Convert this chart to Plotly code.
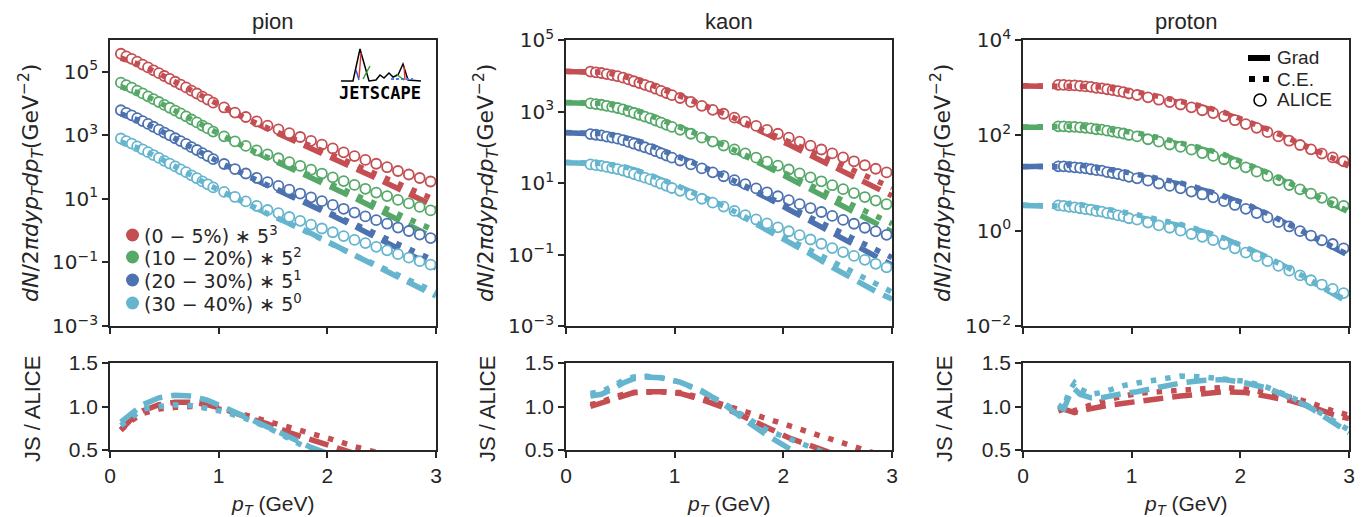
import plotly.graph_objects as go

# ---------------- data ----------------
CENTS = ["0_5", "10_20", "20_30", "30_40"]
CENT_LABELS = ["(0 − 5%) ∗ 5<sup>3</sup>", "(10 − 20%) ∗ 5<sup>2</sup>",
               "(20 − 30%) ∗ 5<sup>1</sup>", "(30 − 40%) ∗ 5<sup>0</sup>"]
SCALES = [5 ** 3, 5 ** 2, 5 ** 1, 5 ** 0]

# ---- pion ----
pion_pt = [0.10, 0.15, 0.20, 0.25, 0.30, 0.35, 0.40, 0.45, 0.50, 0.55, 0.60, 0.65, 0.70, 0.75, 0.80,
           0.85, 0.90, 0.95, 1.05, 1.15, 1.25, 1.35, 1.45, 1.55, 1.65, 1.75, 1.85, 1.95, 2.05, 2.15,
           2.25, 2.35, 2.45, 2.55, 2.65, 2.75, 2.85, 2.95]
pion_alice_0_5 = [2950, 2450, 2040, 1660, 1350, 1100, 891, 724, 589, 479, 389, 316, 257, 204, 166, 132,
                  107, 85.1, 60.3, 41.7, 30.2, 21.9, 16.2, 12.3, 9.33, 7.08, 5.37, 4.07, 3.09, 2.34,
                  1.78, 1.35, 1.02, 0.794, 0.603, 0.468, 0.363, 0.282]
pion_alice_10_20 = [1820, 1510, 1260, 1020, 832, 676, 550, 447, 363, 295, 240, 195, 158, 126, 102, 81.3,
                    66.1, 52.5, 37.2, 25.7, 18.6, 13.5, 10.0, 7.59, 5.75, 4.37, 3.31, 2.51, 1.91, 1.45,
                    1.10, 0.832, 0.631, 0.490, 0.372, 0.288, 0.224, 0.174]
pion_alice_20_30 = [1230, 1020, 851, 692, 562, 457, 372, 302, 245, 200, 162, 132, 107, 85.1, 69.2, 55.0,
                    44.7, 35.5, 25.1, 17.4, 12.6, 9.12, 6.76, 5.13, 3.89, 2.95, 2.24, 1.70, 1.29, 0.977,
                    0.741, 0.562, 0.427, 0.331, 0.251, 0.195, 0.151, 0.117]
pion_alice_30_40 = [794, 661, 550, 447, 363, 295, 240, 195, 158, 129, 105, 85.1, 69.2, 55.0, 44.7, 35.5,
                    28.8, 22.9, 16.6, 11.5, 8.32, 6.03, 4.47, 3.55, 2.69, 2.04, 1.55, 1.17, 0.891, 0.676,
                    0.513, 0.407, 0.309, 0.240, 0.182, 0.141, 0.110, 0.0851]
pion_model_pt = [0.10, 0.20, 0.30, 0.45, 0.60, 0.75, 0.90, 1.05, 1.25, 1.45, 1.65, 1.85, 2.05, 2.25,
                 2.45, 2.65, 2.85, 3.00]
pion_grad_0_5 = [2150, 1750, 1280, 740, 408, 214, 109, 58.5, 26.5, 13.0, 6.53, 3.27, 1.61, 0.764, 0.358,
                 0.169, 0.0798, 0.0452]
pion_ce_0_5 = [2150, 1710, 1240, 703, 385, 204, 106, 57.8, 27.2, 13.5, 7.18, 3.76, 1.91, 0.959, 0.471,
               0.235, 0.120, 0.0728]
pion_grad_10_20 = [1380, 1110, 807, 469, 259, 136, 68.7, 36.4, 16.4, 7.91, 3.92, 1.92, 0.914, 0.428,
                   0.195, 0.0891, 0.0403, 0.0224]
pion_ce_10_20 = [1360, 1080, 782, 438, 240, 126, 65.5, 35.3, 16.4, 8.09, 4.26, 2.19, 1.10, 0.548, 0.265,
                 0.130, 0.0649, 0.0387]
pion_grad_20_30 = [973, 766, 557, 323, 178, 93.5, 46.9, 24.6, 11.1, 5.27, 2.61, 1.25, 0.593, 0.274,
                   0.124, 0.0552, 0.0249, 0.0136]
pion_ce_20_30 = [946, 741, 535, 299, 164, 85.9, 44.3, 23.9, 11.0, 5.35, 2.72, 1.36, 0.670, 0.326, 0.158,
                 0.0753, 0.0378, 0.0220]
pion_grad_30_40 = [652, 506, 371, 214, 118, 61.5, 30.8, 16.4, 7.31, 3.44, 1.75, 0.820, 0.374, 0.169,
                   0.0773, 0.0346, 0.0153, 0.00873]
pion_ce_30_40 = [619, 483, 352, 195, 107, 55.5, 28.2, 15.6, 7.14, 3.40, 1.69, 0.774, 0.366, 0.169,
                 0.0834, 0.0400, 0.0197, 0.0114]
pion_ratio_pt = [0.10, 0.20, 0.30, 0.45, 0.60, 0.75, 0.90, 1.05, 1.25, 1.45, 1.65, 1.85, 2.05, 2.25,
                 2.45, 2.65, 2.85, 3.00]
pion_ratio_grad_0_5 = [0.73, 0.86, 0.95, 1.02, 1.05, 1.05, 1.02, 0.97, 0.88, 0.80, 0.70, 0.61, 0.52,
                       0.43, 0.35, 0.28, 0.22, 0.18]
pion_ratio_ce_0_5 = [0.73, 0.84, 0.92, 0.97, 0.99, 1.00, 0.99, 0.96, 0.90, 0.83, 0.77, 0.70, 0.62, 0.54,
                     0.46, 0.39, 0.33, 0.29]
pion_ratio_grad_30_40 = [0.82, 0.92, 1.02, 1.10, 1.13, 1.12, 1.07, 0.99, 0.88, 0.77, 0.65, 0.53, 0.42,
                         0.33, 0.25, 0.19, 0.14, 0.115]
pion_ratio_ce_30_40 = [0.78, 0.88, 0.97, 1.00, 1.02, 1.01, 0.98, 0.94, 0.86, 0.76, 0.63, 0.50, 0.41,
                       0.33, 0.27, 0.22, 0.18, 0.15]

# ---- kaon ----
kaon_pt = [0.225, 0.275, 0.325, 0.375, 0.425, 0.475, 0.525, 0.575, 0.625, 0.675, 0.725, 0.775, 0.825,
           0.875, 0.925, 0.975, 1.05, 1.15, 1.25, 1.35, 1.45, 1.55, 1.65, 1.75, 1.85, 1.95, 2.05, 2.15,
           2.25, 2.35, 2.45, 2.55, 2.65, 2.75, 2.85, 2.95]
kaon_alice_0_5 = [105, 100, 95.5, 89.1, 83.2, 77.6, 70.8, 63.1, 56.2, 50.1, 44.7, 39.8, 34.7, 30.2, 26.3,
                  22.9, 19.1, 14.8, 11.5, 8.91, 6.92, 5.37, 4.17, 3.16, 2.45, 1.91, 1.48, 1.15, 0.891,
                  0.692, 0.537, 0.417, 0.324, 0.251, 0.200, 0.158]
kaon_alice_10_20 = [67.6, 64.6, 61.7, 57.5, 53.7, 50.1, 45.7, 40.7, 36.3, 32.4, 28.8, 25.7, 22.4, 19.5,
                    17.0, 14.8, 12.3, 9.55, 7.41, 5.75, 4.47, 3.47, 2.69, 2.04, 1.58, 1.23, 0.955, 0.741,
                    0.575, 0.447, 0.347, 0.269, 0.209, 0.162, 0.129, 0.102]
kaon_alice_20_30 = [46.8, 44.7, 42.7, 39.8, 37.2, 34.7, 31.6, 28.2, 25.1, 22.4, 20.0, 17.8, 15.5, 13.5,
                    11.7, 10.2, 8.51, 6.61, 5.13, 3.98, 3.09, 2.40, 1.86, 1.41, 1.10, 0.851, 0.661, 0.513,
                    0.398, 0.309, 0.240, 0.186, 0.145, 0.112, 0.0891, 0.0708]
kaon_alice_30_40 = [33.1, 31.6, 30.2, 28.2, 26.3, 24.5, 22.4, 20.0, 17.8, 15.8, 14.1, 12.6, 11.0, 9.55,
                    8.32, 7.24, 6.03, 4.68, 3.63, 2.82, 2.19, 1.66, 1.26, 0.955, 0.741, 0.575, 0.447,
                    0.347, 0.263, 0.200, 0.151, 0.117, 0.0912, 0.0708, 0.0550, 0.0437]
kaon_model_pt = [0.0, 0.1, 0.225, 0.325, 0.425, 0.525, 0.625, 0.725, 0.875, 1.05, 1.25, 1.45, 1.65,
                 1.85, 2.05, 2.25, 2.45, 2.65, 2.85, 3.0]
kaon_grad_0_5 = [105, 105, 105, 99.3, 90.6, 80.0, 65.2, 52.2, 35.3, 21.9, 12.4, 6.85, 3.66, 1.87, 0.946,
                 0.481, 0.242, 0.120, 0.0598, 0.0353]
kaon_ce_0_5 = [107, 107, 107, 100, 91.4, 80.7, 65.2, 52.2, 35.3, 22.1, 12.6, 7.06, 3.92, 2.11, 1.15,
               0.624, 0.333, 0.175, 0.0918, 0.0593]
kaon_grad_10_20 = [70.3, 70.3, 70.3, 66.5, 60.7, 54.0, 44.3, 35.7, 24.0, 14.7, 8.22, 4.47, 2.31, 1.14,
                   0.553, 0.265, 0.125, 0.0585, 0.0283, 0.0173]
kaon_ce_10_20 = [71.6, 71.6, 71.6, 67.8, 61.8, 54.8, 44.7, 35.7, 24.0, 14.8, 8.30, 4.60, 2.48, 1.28,
                 0.668, 0.345, 0.177, 0.0897, 0.0463, 0.0292]
kaon_grad_20_30 = [50.5, 50.5, 50.5, 47.3, 43.1, 38.5, 31.9, 25.8, 17.3, 10.5, 5.85, 3.12, 1.58, 0.767,
                   0.363, 0.171, 0.0793, 0.0361, 0.0169, 0.0101]
kaon_ce_20_30 = [51.4, 51.4, 51.4, 48.2, 44.3, 39.5, 32.4, 25.9, 17.3, 10.5, 5.85, 3.18, 1.67, 0.843,
                 0.430, 0.215, 0.108, 0.0535, 0.0267, 0.0164]
kaon_grad_30_40 = [37.1, 37.1, 37.1, 34.4, 31.6, 28.4, 23.5, 18.9, 12.7, 7.71, 4.29, 2.25, 1.06, 0.497,
                   0.232, 0.103, 0.0439, 0.0200, 0.00933, 0.00564]
kaon_ce_30_40 = [38.1, 38.1, 38.1, 35.3, 32.4, 29.1, 23.8, 19.1, 12.7, 7.71, 4.25, 2.28, 1.11, 0.541,
                 0.281, 0.137, 0.0635, 0.0310, 0.0148, 0.00895]
kaon_ratio_pt = [0.225, 0.325, 0.425, 0.525, 0.625, 0.725, 0.875, 1.05, 1.25, 1.45, 1.65, 1.85, 2.05,
                 2.25, 2.45, 2.65, 2.85, 3.0]
kaon_ratio_grad_0_5 = [1.00, 1.04, 1.09, 1.13, 1.16, 1.17, 1.17, 1.15, 1.08, 0.99, 0.88, 0.76, 0.64,
                       0.54, 0.45, 0.37, 0.30, 0.25]
kaon_ratio_ce_0_5 = [1.02, 1.05, 1.10, 1.14, 1.16, 1.17, 1.17, 1.16, 1.10, 1.02, 0.94, 0.86, 0.78, 0.70,
                     0.62, 0.54, 0.46, 0.42]
kaon_ratio_grad_30_40 = [1.12, 1.14, 1.20, 1.27, 1.32, 1.34, 1.33, 1.28, 1.18, 1.03, 0.84, 0.67, 0.52,
                         0.39, 0.29, 0.22, 0.17, 0.145]
kaon_ratio_ce_30_40 = [1.15, 1.17, 1.23, 1.30, 1.34, 1.35, 1.33, 1.28, 1.17, 1.04, 0.88, 0.73, 0.63,
                       0.52, 0.42, 0.34, 0.27, 0.23]

# ---- proton ----
proton_pt = [0.325, 0.375, 0.425, 0.475, 0.525, 0.575, 0.625, 0.675, 0.725, 0.775, 0.825, 0.875, 0.925,
             0.975, 1.05, 1.15, 1.25, 1.35, 1.45, 1.55, 1.65, 1.75, 1.85, 1.95, 2.05, 2.15, 2.25, 2.35,
             2.45, 2.55, 2.65, 2.75, 2.85, 2.95]
proton_alice_0_5 = [9.12, 9.12, 8.91, 8.91, 8.71, 8.51, 8.32, 7.94, 7.76, 7.41, 7.08, 6.76, 6.46, 6.03,
                    5.62, 5.01, 4.47, 3.98, 3.55, 3.09, 2.69, 2.34, 2.00, 1.66, 1.38, 1.15, 0.933, 0.759,
                    0.617, 0.501, 0.407, 0.331, 0.275, 0.229]
proton_alice_10_20 = [6.17, 6.17, 6.03, 6.03, 5.89, 5.75, 5.62, 5.37, 5.25, 5.01, 4.79, 4.57, 4.37, 4.07,
                      3.80, 3.31, 2.95, 2.57, 2.29, 2.00, 1.70, 1.48, 1.26, 1.02, 0.851, 0.692, 0.562,
                      0.457, 0.363, 0.295, 0.240, 0.195, 0.158, 0.132]
proton_alice_20_30 = [4.47, 4.47, 4.37, 4.27, 4.17, 4.07, 3.89, 3.72, 3.63, 3.39, 3.24, 3.09, 2.88, 2.69,
                      2.51, 2.24, 1.95, 1.74, 1.55, 1.32, 1.15, 1.00, 0.832, 0.692, 0.575, 0.468, 0.380,
                      0.302, 0.245, 0.195, 0.158, 0.126, 0.105, 0.0851]
proton_alice_30_40 = [3.39, 3.31, 3.16, 3.09, 2.95, 2.82, 2.75, 2.57, 2.51, 2.34, 2.24, 2.09, 2.00, 1.82,
                      1.70, 1.48, 1.29, 1.15, 1.00, 0.851, 0.741, 0.631, 0.525, 0.427, 0.347, 0.288,
                      0.229, 0.182, 0.145, 0.115, 0.0912, 0.0741, 0.0603, 0.0490]
proton_model_pt = [0.0, 0.1, 0.2, 0.325, 0.375, 0.425, 0.475, 0.525, 0.625, 0.725, 0.825, 0.925, 1.05,
                   1.25, 1.45, 1.65, 1.85, 2.05, 2.25, 2.45, 2.65, 2.85, 3.0]
proton_grad_0_5 = [8.67, 8.67, 8.67, 8.67, 8.85, 8.47, 8.28, 8.28, 8.15, 7.76, 7.23, 6.71, 5.96, 4.86,
                   3.97, 3.10, 2.33, 1.60, 1.04, 0.659, 0.407, 0.251, 0.179]
proton_ce_0_5 = [8.75, 8.75, 8.75, 8.75, 8.93, 8.55, 8.47, 8.53, 8.49, 8.22, 7.71, 7.23, 6.47, 5.22,
                 4.23, 3.26, 2.43, 1.66, 1.08, 0.684, 0.424, 0.262, 0.188]
proton_grad_10_20 = [5.92, 5.92, 5.92, 5.92, 5.98, 6.03, 6.15, 5.94, 5.74, 5.41, 5.02, 4.67, 4.14, 3.33,
                     2.68, 2.04, 1.53, 1.02, 0.647, 0.392, 0.238, 0.139, 0.0986]
proton_ce_10_20 = [5.98, 5.98, 5.98, 5.98, 6.04, 6.21, 6.44, 6.24, 5.96, 5.71, 5.36, 5.02, 4.49, 3.57,
                   2.84, 2.14, 1.58, 1.05, 0.664, 0.399, 0.242, 0.143, 0.101]
proton_grad_20_30 = [4.38, 4.38, 4.38, 4.38, 4.34, 4.62, 4.69, 4.46, 4.12, 3.88, 3.52, 3.20, 2.84, 2.30,
                     1.89, 1.44, 1.06, 0.713, 0.449, 0.267, 0.155, 0.0889, 0.0597]
proton_ce_20_30 = [4.43, 4.43, 4.43, 4.43, 4.38, 4.80, 4.94, 4.71, 4.28, 4.06, 3.75, 3.46, 3.06, 2.45,
                   2.01, 1.49, 1.07, 0.731, 0.456, 0.272, 0.158, 0.0912, 0.0614]
proton_grad_30_40 = [3.39, 3.39, 3.39, 3.39, 3.21, 3.54, 3.71, 3.37, 3.03, 2.76, 2.53, 2.30, 1.99, 1.57,
                     1.27, 0.964, 0.687, 0.441, 0.277, 0.160, 0.0893, 0.0494, 0.0305]
proton_ce_30_40 = [3.46, 3.46, 3.46, 3.46, 3.24, 3.73, 3.93, 3.54, 3.14, 2.91, 2.69, 2.47, 2.16, 1.69,
                   1.35, 0.993, 0.693, 0.448, 0.279, 0.162, 0.0904, 0.0506, 0.0318]
proton_ratio_pt = [0.325, 0.375, 0.425, 0.475, 0.525, 0.625, 0.725, 0.825, 0.925, 1.05, 1.25, 1.45,
                   1.65, 1.85, 2.05, 2.25, 2.45, 2.65, 2.85, 3.0]
proton_ratio_grad_0_5 = [0.95, 0.97, 0.95, 0.93, 0.95, 0.98, 1.00, 1.02, 1.04, 1.06, 1.09, 1.12, 1.15,
                         1.17, 1.16, 1.12, 1.07, 1.00, 0.91, 0.86]
proton_ratio_ce_0_5 = [0.96, 0.98, 0.96, 0.95, 0.98, 1.02, 1.06, 1.09, 1.12, 1.15, 1.17, 1.19, 1.21,
                       1.22, 1.20, 1.16, 1.11, 1.04, 0.95, 0.90]
proton_ratio_grad_30_40 = [1.00, 0.97, 1.12, 1.20, 1.14, 1.10, 1.10, 1.13, 1.15, 1.17, 1.22, 1.27, 1.30,
                           1.31, 1.27, 1.21, 1.11, 0.98, 0.82, 0.70]
proton_ratio_ce_30_40 = [1.02, 0.98, 1.18, 1.27, 1.20, 1.14, 1.16, 1.20, 1.24, 1.27, 1.31, 1.35, 1.34,
                         1.32, 1.29, 1.22, 1.12, 0.99, 0.84, 0.73]

# ---------------- style ----------------
W, H = 1370, 517
SANS = "Liberation Sans"      # regular text (Arial-like)
MATH = "DejaVu Sans"          # mathtext-like text
INK = "#262626"
COLORS = ["#c44e52", "#55a868", "#4c72b0", "#64b5cd"]
LW = 5.5
DASH_GRAD = "20px,9px"
DASH_CE = "5.5px,9px"


def px(x):
    return x / W


def py(y):
    return 1 - y / H


species = [
    dict(name="pion", pt=pion_pt,
         alice=[pion_alice_0_5, pion_alice_10_20, pion_alice_20_30, pion_alice_30_40],
         mpt=pion_model_pt,
         grad=[pion_grad_0_5, pion_grad_10_20, pion_grad_20_30, pion_grad_30_40],
         ce=[pion_ce_0_5, pion_ce_10_20, pion_ce_20_30, pion_ce_30_40],
         rpt=pion_ratio_pt,
         rgrad=[pion_ratio_grad_0_5, pion_ratio_grad_30_40],
         rce=[pion_ratio_ce_0_5, pion_ratio_ce_30_40],
         yrange=[-3, 6], yexp=[-3, -1, 1, 3, 5], xpix=[102, 428], ytitle_x=23),
    dict(name="kaon", pt=kaon_pt,
         alice=[kaon_alice_0_5, kaon_alice_10_20, kaon_alice_20_30, kaon_alice_30_40],
         mpt=kaon_model_pt,
         grad=[kaon_grad_0_5, kaon_grad_10_20, kaon_grad_20_30, kaon_grad_30_40],
         ce=[kaon_ce_0_5, kaon_ce_10_20, kaon_ce_20_30, kaon_ce_30_40],
         rpt=kaon_ratio_pt,
         rgrad=[kaon_ratio_grad_0_5, kaon_ratio_grad_30_40],
         rce=[kaon_ratio_ce_0_5, kaon_ratio_ce_30_40],
         yrange=[-3, 5], yexp=[-3, -1, 1, 3, 5], xpix=[558, 884], ytitle_x=478),
    dict(name="proton", pt=proton_pt,
         alice=[proton_alice_0_5, proton_alice_10_20, proton_alice_20_30, proton_alice_30_40],
         mpt=proton_model_pt,
         grad=[proton_grad_0_5, proton_grad_10_20, proton_grad_20_30, proton_grad_30_40],
         ce=[proton_ce_0_5, proton_ce_10_20, proton_ce_20_30, proton_ce_30_40],
         rpt=proton_ratio_pt,
         rgrad=[proton_ratio_grad_0_5, proton_ratio_grad_30_40],
         rce=[proton_ratio_ce_0_5, proton_ratio_ce_30_40],
         yrange=[-2, 4], yexp=[-2, 0, 2, 4], xpix=[1015, 1341], ytitle_x=935),
]

TOP_Y = [32, 318]
BOT_Y = [355, 442]

fig = go.Figure()
layout = dict(
    width=W, height=H, template="none",
    margin=dict(l=0, r=0, t=0, b=0, pad=0, autoexpand=False),
    paper_bgcolor="white", plot_bgcolor="white",
    showlegend=False,
    font=dict(family=SANS, color=INK, size=21),
)
axis_common = dict(
    showline=True, linecolor=INK, linewidth=1.6, mirror=True,
    ticks="outside", ticklen=6, tickwidth=1.5, tickcolor=INK,
    showgrid=False, zeroline=False, automargin=False,
    tickfont=dict(family=SANS, size=21, color=INK),
)


def sup(e):
    return "10<sup>" + str(e).replace("-", "−") + "</sup>"


annotations = []
shapes = []

for i, sp in enumerate(species):
    xt = "x" if i == 0 else f"x{i + 1}"
    yt = "y" if i == 0 else f"y{i + 1}"
    xb = f"x{i + 4}"
    yb = f"y{i + 4}"
    xdom = [px(sp["xpix"][0]), px(sp["xpix"][1])]

    layout["xaxis" if i == 0 else f"xaxis{i + 1}"] = dict(
        axis_common, domain=xdom, anchor=yt, range=[0, 3], tickvals=[0, 1, 2, 3],
        showticklabels=False)
    layout["yaxis" if i == 0 else f"yaxis{i + 1}"] = dict(
        axis_common, domain=[py(TOP_Y[1]), py(TOP_Y[0])], anchor=xt, type="log",
        range=sp["yrange"], tickvals=[10.0 ** e for e in sp["yexp"]],
        ticktext=[sup(e) for e in sp["yexp"]],
        tickfont=dict(family=MATH, size=20, color=INK))
    layout[f"xaxis{i + 4}"] = dict(
        axis_common, domain=xdom, anchor=yb, range=[0, 3], tickvals=[0, 1, 2, 3],
        ticktext=["0", "1", "2", "3"])
    layout[f"yaxis{i + 4}"] = dict(
        axis_common, domain=[py(BOT_Y[1]), py(BOT_Y[0])], anchor=xb, range=[0.5, 1.5],
        tickvals=[0.5, 1.0, 1.5], ticktext=["0.5", "1.0", "1.5"])

    # Grad model curves (below the data)
    for c in range(4):
        s = SCALES[c]
        fig.add_trace(go.Scatter(
            x=sp["mpt"], y=[v * s for v in sp["grad"][c]], mode="lines",
            line=dict(color=COLORS[c], width=LW, dash=DASH_GRAD),
            xaxis=xt, yaxis=yt, hoverinfo="skip"))
    # ALICE data (scaled)
    for c in range(4):
        s = SCALES[c]
        fig.add_trace(go.Scatter(
            x=sp["pt"], y=[v * s for v in sp["alice"][c]], mode="markers",
            marker=dict(symbol="circle", size=10, color="white",
                        line=dict(color=COLORS[c], width=1.8)),
            xaxis=xt, yaxis=yt, hoverinfo="skip"))
    # C.E. model curves (above the data)
    for c in range(4):
        s = SCALES[c]
        fig.add_trace(go.Scatter(
            x=sp["mpt"], y=[v * s for v in sp["ce"][c]], mode="lines",
            line=dict(color=COLORS[c], width=LW, dash=DASH_CE),
            xaxis=xt, yaxis=yt, hoverinfo="skip"))

    # ratio panel: 0-5% (red) and 30-40% (cyan)
    for k, c in enumerate([0, 3]):
        fig.add_trace(go.Scatter(
            x=sp["rpt"], y=sp["rgrad"][k], mode="lines",
            line=dict(color=COLORS[c], width=LW, dash=DASH_GRAD),
            xaxis=xb, yaxis=yb, hoverinfo="skip"))
        fig.add_trace(go.Scatter(
            x=sp["rpt"], y=sp["rce"][k], mode="lines",
            line=dict(color=COLORS[c], width=LW, dash=DASH_CE),
            xaxis=xb, yaxis=yb, hoverinfo="skip"))

    xc = (sp["xpix"][0] + sp["xpix"][1]) / 2
    annotations.append(dict(text=sp["name"], x=px(xc), y=py(13), xref="paper", yref="paper",
                            showarrow=False, xanchor="center", yanchor="middle",
                            font=dict(size=22, color=INK, family=SANS)))
    annotations.append(dict(
        text="<i>dN</i>/2<i>πdyp</i><sub><i>T</i></sub><i>dp</i><sub><i>T</i></sub>(GeV<sup>−2</sup>)",
        x=px(sp["ytitle_x"]), y=py(175), xref="paper", yref="paper", textangle=-90,
        showarrow=False, xanchor="center", yanchor="middle",
        font=dict(size=22, color=INK, family=MATH)))
    annotations.append(dict(
        text="JS / ALICE", x=px(sp["ytitle_x"] + 1), y=py(401), xref="paper", yref="paper",
        textangle=-90, showarrow=False, xanchor="center", yanchor="middle",
        font=dict(size=22, color=INK, family=SANS)))
    annotations.append(dict(
        text="<i>p</i><sub><i>T</i></sub> (GeV)", x=px(xc), y=py(497), xref="paper", yref="paper",
        showarrow=False, xanchor="center", yanchor="middle",
        font=dict(size=21, color=INK, family=SANS)))

# ---- centrality legend (pion panel) ----
leg_y = [227, 249, 272, 295]
for c in range(4):
    y0 = leg_y[c]
    shapes.append(dict(type="circle", xref="paper", yref="paper",
                       x0=px(118), x1=px(131), y0=py(y0 + 6.5), y1=py(y0 - 6.5),
                       fillcolor=COLORS[c], line=dict(color=COLORS[c], width=0)))
    annotations.append(dict(text=CENT_LABELS[c], x=px(134), y=py(y0), xref="paper", yref="paper",
                            showarrow=False, xanchor="left", yanchor="middle",
                            font=dict(size=19, color=INK, family=MATH)))

# ---- model legend (proton panel) ----
shapes.append(dict(type="line", xref="paper", yref="paper", x0=px(1240), x1=px(1262),
                   y0=py(50), y1=py(50), line=dict(color="black", width=6)))
for xa in (1241, 1255):
    shapes.append(dict(type="rect", xref="paper", yref="paper", x0=px(xa), x1=px(xa + 6),
                       y0=py(74), y1=py(68), fillcolor="black", line=dict(width=0)))
shapes.append(dict(type="circle", xref="paper", yref="paper", x0=px(1246), x1=px(1258),
                   y0=py(98), y1=py(86), line=dict(color="black", width=1.6)))
for txt, yy in (("Grad", 50), ("C.E.", 71), ("ALICE", 92)):
    annotations.append(dict(text=txt, x=px(1267), y=py(yy), xref="paper", yref="paper",
                            showarrow=False, xanchor="left", yanchor="middle",
                            font=dict(size=19, color=INK, family=SANS)))


# ---- JETSCAPE logo ----
def path(pts):
    return "M " + " L ".join(f"{px(a):.5f},{py(b):.5f}" for a, b in pts)


shapes.append(dict(type="path", xref="paper", yref="paper", line=dict(color="black", width=1.5),
                   path=path([(333, 73), (345, 73), (352, 41), (361, 73), (368, 72), (372, 67),
                              (376, 70), (381, 65), (385, 69), (390, 67), (395, 56), (400, 72),
                              (413, 73)])))
shapes.append(dict(type="path", xref="paper", yref="paper", line=dict(color="#e03030", width=1.4),
                   path=path([(353, 45), (351, 70)])))
shapes.append(dict(type="path", xref="paper", yref="paper", line=dict(color="#2a9a3a", width=1.4),
                   path=path([(355, 71), (362, 58)])))
shapes.append(dict(type="path", xref="paper", yref="paper", line=dict(color="#3050d0", width=1.4),
                   path=path([(348, 62), (351, 72)])))
shapes.append(dict(type="path", xref="paper", yref="paper",
                   line=dict(color="#5078ff", width=2.2, dash="3px,2px"),
                   path=path([(383, 71), (405, 71)])))
shapes.append(dict(type="path", xref="paper", yref="paper", line=dict(color="#e03030", width=1.4),
                   path=path([(396, 58), (397, 72)])))
shapes.append(dict(type="path", xref="paper", yref="paper", line=dict(color="#2a9a3a", width=1.4),
                   path=path([(388, 66), (396, 72)])))
annotations.append(dict(text="<b>JETSCAPE</b>", x=px(372), y=py(85), xref="paper", yref="paper",
                        showarrow=False, xanchor="center", yanchor="middle",
                        font=dict(size=17, color="black", family="DejaVu Sans Mono")))

layout["annotations"] = annotations
layout["shapes"] = shapes
fig.update_layout(**layout)
fig.write_html("out.html")
